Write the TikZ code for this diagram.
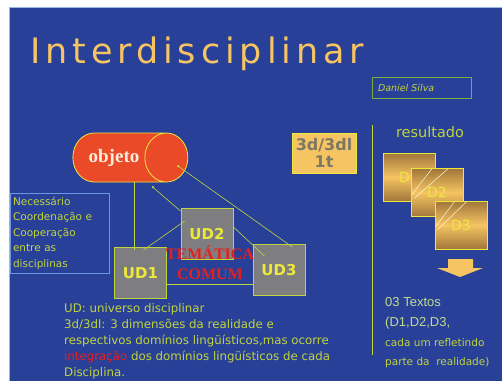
\documentclass[tikz,border=0pt]{standalone}
\usepackage{fontspec}
\setmainfont{DejaVu Sans}
\newfontfamily\titlefont[LetterSpace=14]{DejaVu Sans}
\newfontfamily\serifbold{Liberation Serif}
\newfontfamily\arialfont{Liberation Sans}
\usepackage{tikz}
\usetikzlibrary{arrows.meta,shapes,positioning}
\usepackage{xcolor}
\definecolor{ibblue}{RGB}{41,64,153}
\definecolor{iborange}{RGB}{246,196,98}
\definecolor{ibgreen}{RGB}{192,212,60}
\definecolor{ibpale}{RGB}{190,220,140}
\definecolor{ibauthor}{RGB}{120,175,60}
\definecolor{ibyellow}{RGB}{236,232,60}
\definecolor{ibred}{RGB}{234,74,40}
\definecolor{ibtext}{RGB}{228,32,30}
\definecolor{ibgray}{RGB}{126,126,128}
\definecolor{ibdark}{RGB}{125,120,100}
\definecolor{ibbrown}{RGB}{160,118,58}
\definecolor{ibframe}{RGB}{110,150,225}
\tikzstyle{udbox} = [draw=ibgreen, fill=ibgray, line width=0.8pt, minimum width=52pt, minimum height=51pt, text=ibyellow, font=\bfseries\fontsize{15}{15}\selectfont]
\tikzstyle{docbox} = [draw=ibyellow, line width=0.8pt, minimum width=52pt, minimum height=48pt, top color=ibbrown, bottom color=ibbrown, middle color=iborange, text=ibyellow, font=\fontsize{14}{14}\selectfont]
\tikzstyle{link} = [ibgreen, line width=0.6pt]

\begin{document}
\begin{tikzpicture}[x=1pt, y=-1pt]
% Background
\useasboundingbox (0,0) rectangle (502,381);
\fill[white] (0,0) rectangle (502,381);
\fill[ibblue] (9,7) rectangle (502,381);
\draw[ibframe!70, line width=1pt] (9.5,381) -- (9.5,7.5) -- (502,7.5);

% Title
\node[anchor=base west, inner sep=0, text=iborange, font=\titlefont\fontsize{35}{35}\selectfont] (title) at (30,63) {Interdisciplinar};
\node[draw=ibauthor, line width=0.8pt, minimum width=99pt, minimum height=21pt, inner sep=0, text width=87pt, align=left, text=ibgreen, font=\itshape\fontsize{9.5}{9.5}\selectfont] (author) at (421.5,87.5) {Daniel Silva};

% Object and disciplines
\node[cylinder, shape aspect=1.8, draw=ibyellow, line width=0.8pt, cylinder uses custom fill, cylinder body fill=ibred, cylinder end fill=ibred, minimum width=49pt, minimum height=115pt, text=white!85!orange, font=\serifbold\bfseries\fontsize{19}{19}\selectfont] (objeto) at (114,157.5) {objeto};
\node[draw=ibframe, line width=0.8pt, minimum width=99pt, minimum height=80pt, inner sep=0, text width=93pt, align=left, text=ibgreen, font=\fontsize{10.5}{15.5}\selectfont] (note) at (59.5,233) {Necessário\\Coordenação e\\Cooperação\\entre as\\disciplinas};
\node[udbox] (ud1) at (140.5,273) {UD1};
\node[udbox] (ud2) at (207,234) {UD2};
\node[udbox] (ud3) at (279,270) {UD3};

% Links
\draw[link] ([xshift=20pt]objeto.south) -- ([xshift=20pt,yshift=-3pt]objeto.south |- ud1.north);
\draw[link] ([xshift=3pt,yshift=-3pt]ud1.north) -- ([xshift=4pt,yshift=-13pt]ud2.north west);
\draw[link, -{Circle[length=2.5pt]}] ([yshift=-3pt]ud2.north west) -- ([xshift=38pt,yshift=-4pt]objeto.south);
\draw[link, {Circle[length=2.5pt]}-] ([xshift=-11pt,yshift=-8pt]objeto.east) -- ([xshift=-13pt,yshift=-3pt]ud3.north east);
\draw[link] ([yshift=7pt]ud2.east) -- ([xshift=12pt,yshift=-12pt]ud3.north west);
\draw[link] ([yshift=-11pt]ud1.east) -- ([yshift=-11pt]ud1.east -| ud3.west);
\node[align=center, text=ibtext, font=\serifbold\bfseries\fontsize{16}{20}\selectfont] (tema) at (210,263) {TEMÁTICA\\COMUM};

% Dimensions
\node[fill=iborange, draw=ibyellow, line width=0.8pt, minimum width=64pt, minimum height=40pt, inner sep=0, align=center, text=ibdark, font=\bfseries\fontsize{16}{17}\selectfont] (dims) at (324,153) {3d/3dl\\1t};

% Result
\draw[link] (372,125) -- (372,355);
\node[text=ibgreen, font=\fontsize{14.5}{14.5}\selectfont] (result) at (430,132) {resultado};
\node[docbox] (d1) at (409,177) {D1};
\node[docbox] (d2) at (437,192.5) {D2};
\node[docbox] (d3) at (461,225) {D3};
\draw[white!80!ibyellow, line width=0.5pt] ([shift={(1,27)}]d2.north west) -- ([shift={(21,1)}]d2.north west);
\draw[white!80!ibyellow, line width=0.5pt] ([shift={(4,30)}]d2.north west) -- ([shift={(37,1)}]d2.north west);
\draw[white!80!ibyellow, line width=0.5pt] ([shift={(1,26)}]d3.north west) -- ([shift={(20,1)}]d3.north west);
\draw[white!80!ibyellow, line width=0.5pt] ([shift={(3,29)}]d3.north west) -- ([shift={(32,1)}]d3.north west);
\fill[iborange] (448,259) -- (473,259) -- (473,268) -- (483,268) -- (460,277) -- (437,268) -- (448,268) -- cycle;
\node[anchor=north west, align=left, inner sep=0, text=ibpale, font=\arialfont\fontsize{13}{20}\selectfont] (texts) at (385,297) {03 Textos\\(D1,D2,D3,};
\node[anchor=north west, align=left, inner sep=0, text=ibgreen, font=\fontsize{10.5}{19}\selectfont] (textsnote) at (385,338) {cada um refletindo\\parte da\ \ realidade)};

% Legend
\node[anchor=north west, align=left, inner sep=0, text=ibgreen, font=\fontsize{11.8}{16.2}\selectfont] (legend) at (64,303) {UD: universo disciplinar\\3d/3dl: 3 dimensões da realidade e\\respectivos domínios lingüísticos,mas ocorre\\\textcolor{ibtext}{integração} dos domínios lingüísticos de cada\\Disciplina.};
\end{tikzpicture}
\end{document}
